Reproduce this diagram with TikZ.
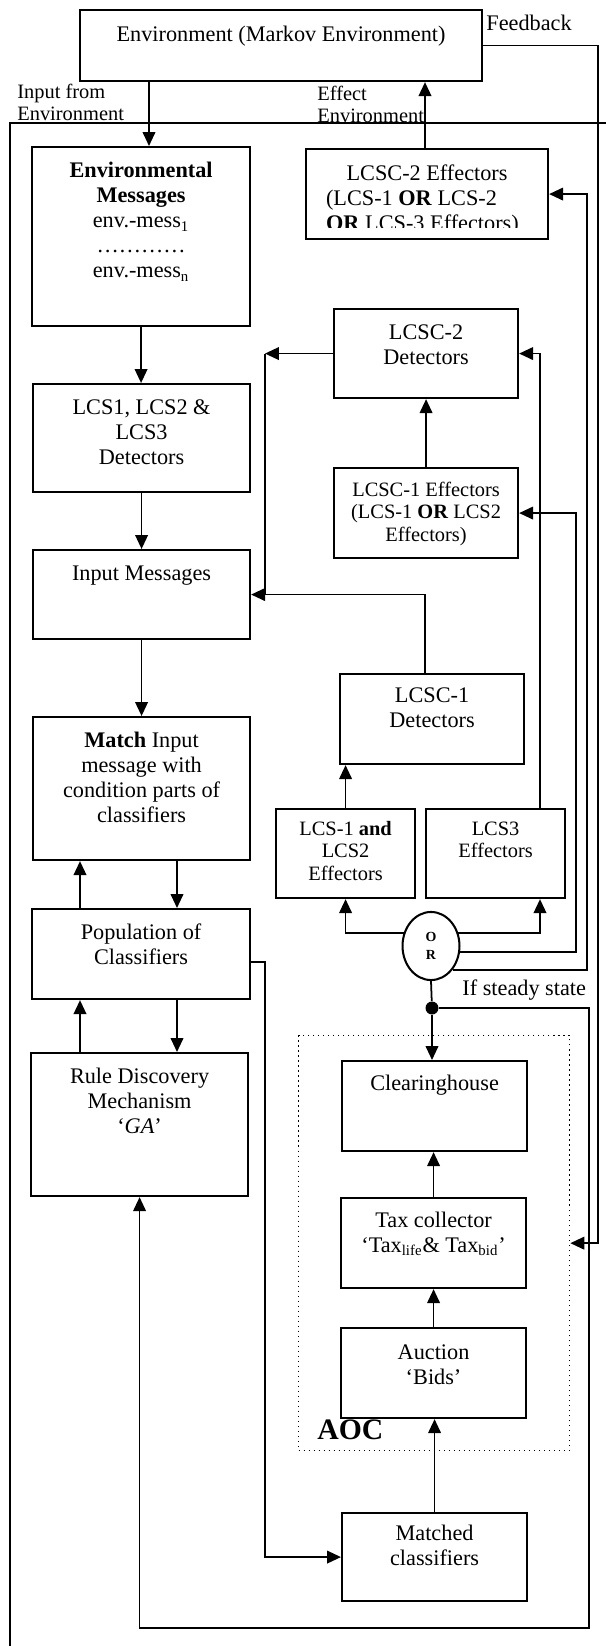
\documentclass[tikz,border=0pt]{standalone}
\usepackage{fontspec}
\setmainfont{Liberation Serif}
\usepackage{tikz}
\usetikzlibrary{arrows.meta,shapes.geometric}
\newlength\pxu
\setlength\pxu{0.539pt}
% box text: width, height, top gap (all in pixels of the drawing), lines
\newcommand\boxtxt[4]{\parbox[t][#2\pxu][t]{#1\pxu}{\centering\vspace*{#3\pxu}\strut#4}}

\begin{document}
\begin{tikzpicture}[x=0.539pt,y=-0.539pt,
	font=\fontsize{12}{13.5}\selectfont,
	blk/.style={draw,line width=1.15pt,inner sep=0pt,anchor=north west},
	arr/.style={line width=0.95pt,-{Triangle[length=7.5pt,width=6.8pt]}},
	wire/.style={line width=0.95pt},
	lbl/.style={inner sep=0pt,align=left,font=\fontsize{11}{11.7}\selectfont},
	small/.style={font=\fontsize{11}{12.3}\selectfont}]
	\useasboundingbox (0,0) rectangle (606,1646);
	% columns and rows of the wires
	\coordinate (cIn) at (149,0);%input from environment
	\coordinate (cUp) at (80,0);
	\coordinate (cDown) at (177,0);
	\coordinate (cBack) at (265,0);
	\coordinate (cEff) at (425,0);
	\coordinate (cA) at (540,0);%LCS3 -> LCSC-2
	\coordinate (cB) at (576,0);%OR -> LCSC-1 eff
	\coordinate (cC) at (587,0);%OR -> LCSC-2 eff
	\coordinate (cSteady) at (589,0);
	\coordinate (cFeed) at (598,0);
	\coordinate (rPop) at (0,962);
	\coordinate (rBottom) at (0,1628);

	% left column
	\node[blk] (env) at (79,9) {\boxtxt{402}{71}{14}{Environment (Markov Environment)}};
	\node[blk] (envmsg) at (31,146) {\boxtxt{218}{179}{13}{\textbf{Environmental}\\\textbf{Messages}\\env.-mess\textsubscript{1}\\…………\\env.-mess\textsubscript{n}}};
	\node[blk] (lcsdet) at (32,383) {\boxtxt{217}{108}{13}{LCS1, LCS2 \&\\LCS3\\Detectors}};
	\node[blk] (inmsg) at (32,549) {\boxtxt{217}{89}{13}{Input Messages}};
	\node[blk] (match) at (32,716) {\boxtxt{217}{143}{13}{\textbf{Match} Input\\message with\\condition parts of\\classifiers}};
	\node[blk] (pop) at (31,908) {\boxtxt{218}{90}{13}{Population of\\Classifiers}};
	\node[blk] (rule) at (30,1052) {\boxtxt{217}{143}{13}{Rule Discovery\\Mechanism\\`\textit{GA}'}};

	% right column
	\begin{scope}
		\clip (305,148) rectangle (547,228);
		\node[blk,draw=none] (lcscbtxt) at (305,148) {\parbox[t][90\pxu][t]{242\pxu}{\vspace*{14\pxu}{\centering\strut LCSC-2 Effectors\par}\leftskip=20\pxu\rightskip=0pt plus 1fil (LCS-1 \textbf{OR} LCS-2\\\textbf{OR} LCS-3 Effectors)}};
	\end{scope}
	\node[blk] (lcscbeff) at (305,148) {\boxtxt{242}{90}{0}{}};
	\node[blk] (lcscbdet) at (333,308) {\boxtxt{184}{89}{13}{LCSC-2\\Detectors}};
	\node[blk,small] (lcscaeff) at (333,467) {\boxtxt{184}{90}{12}{LCSC-1 Effectors\\(LCS-1 \textbf{OR} LCS2\\Effectors)}};
	\node[blk] (lcscadet) at (339,673) {\boxtxt{184}{90}{11}{LCSC-1\\Detectors}};
	\node[blk,small] (lcsab) at (275,808) {\boxtxt{139}{89}{10}{LCS-1 \textbf{and}\\LCS2\\Effectors}};
	\node[blk,small] (lcsthree) at (425,808) {\boxtxt{139}{89}{10}{LCS3\\Effectors}};
	\node[draw,ellipse,line width=1.1pt,inner sep=0pt,minimum width=30.7pt,minimum height=36.7pt,align=center,font=\fontsize{7.5}{10}\selectfont\bfseries] (orgate) at (431,946) {O\\R};
	\node[circle,fill,inner sep=0pt,minimum size=7pt] (steady) at (432,1008) {};

	% AOC
	\node[draw,dotted,line width=0.7pt,anchor=north west,inner sep=0pt,minimum width=146.1pt,minimum height=223.7pt] (aoc) at (298,1035) {};
	\node[blk] (clearing) at (341,1060) {\boxtxt{185}{90}{12}{Clearinghouse}};
	\node[blk] (tax) at (340,1197) {\boxtxt{185}{90}{12}{Tax collector\\`Tax\textsubscript{life}\& Tax\textsubscript{bid}'}};
	\node[blk] (auction) at (340,1327) {\boxtxt{185}{90}{14}{Auction\\`Bids'}};
	\node[blk] (matched) at (341,1512) {\boxtxt{185}{88}{10}{Matched\\classifiers}};

	% labels
	\node[lbl,anchor=north west] (inlbl) at (17,84) {Input from\\Environment};
	\node[lbl,anchor=north west] (efflbl) at (317,86) {Effect\\Environment};
	\node[anchor=west,inner sep=0pt] (fblbl) at (486,23) {Feedback};
	\node[anchor=west,inner sep=0pt] (ifsteady) at (462,990) {If steady state};
	\node[anchor=west,inner sep=0pt,font=\fontsize{16}{19}\selectfont\bfseries] (aoclbl) at (317,1430) {AOC};

	% outer frame
	\draw[line width=0.8pt] (10,1646) -- (10,123) -- (606,123);

	% wires
	\draw[arr] (env.south -| cIn) -- (envmsg.north -| cIn);
	\draw[arr] (lcscbeff.north -| cEff) -- (env.south -| cEff);
	\draw[arr] (env.east) -| (aoc.east -| cFeed) -- (aoc.east);
	\draw[arr] (envmsg.south) -- (envmsg.south |- lcsdet.north);
	\draw[arr] (lcsdet.south) -- (lcsdet.south |- inmsg.north);
	\draw[arr] (inmsg.south) -- (inmsg.south |- match.north);
	\draw[arr] (match.south -| cDown) -- (pop.north -| cDown);
	\draw[arr] (pop.north -| cUp) -- (match.south -| cUp);
	\draw[arr] (pop.south -| cDown) -- (rule.north -| cDown);
	\draw[arr] (rule.north -| cUp) -- (pop.south -| cUp);
	\draw[arr] (pop.east |- rPop) -| (cBack |- matched.west) -- (matched.west);
	\draw[arr] (lcscbdet.west) -- (lcscbdet.west -| cBack);
	\draw[wire] (lcscbdet.west -| cBack) -- (inmsg.east -| cBack);
	\draw[arr] (lcscadet.north -| cEff) |- (inmsg.east);
	\draw[arr] (lcscaeff.north) -- (lcscaeff.north |- lcscbdet.south);
	\draw[arr] (lcsab.north) -- (lcsab.north |- lcscadet.south);
	\draw[arr] (orgate.154) -| (lcsab.south);
	\draw[arr] (orgate.26) -| (lcsthree.south -| cA);
	\draw[arr] (lcsthree.north -| cA) |- (lcscbdet.east);
	\draw[arr] (orgate.348) -| (lcscaeff.east -| cB) -- (lcscaeff.east);
	\draw[arr] (orgate.312) -| (lcscbeff.east -| cC) -- (lcscbeff.east);
	\draw[wire] (orgate.south) -- (steady);
	\draw[arr] (steady) -- (steady |- clearing.north);
	\draw[arr] (steady) -| (rBottom -| cSteady) -- (rBottom -| rule.south) -- (rule.south);
	\draw[arr] (tax.north) -- (tax.north |- clearing.south);
	\draw[arr] (auction.north) -- (auction.north |- tax.south);
	\draw[arr] (matched.north) -- (matched.north |- auction.south);
\end{tikzpicture}
\end{document}
